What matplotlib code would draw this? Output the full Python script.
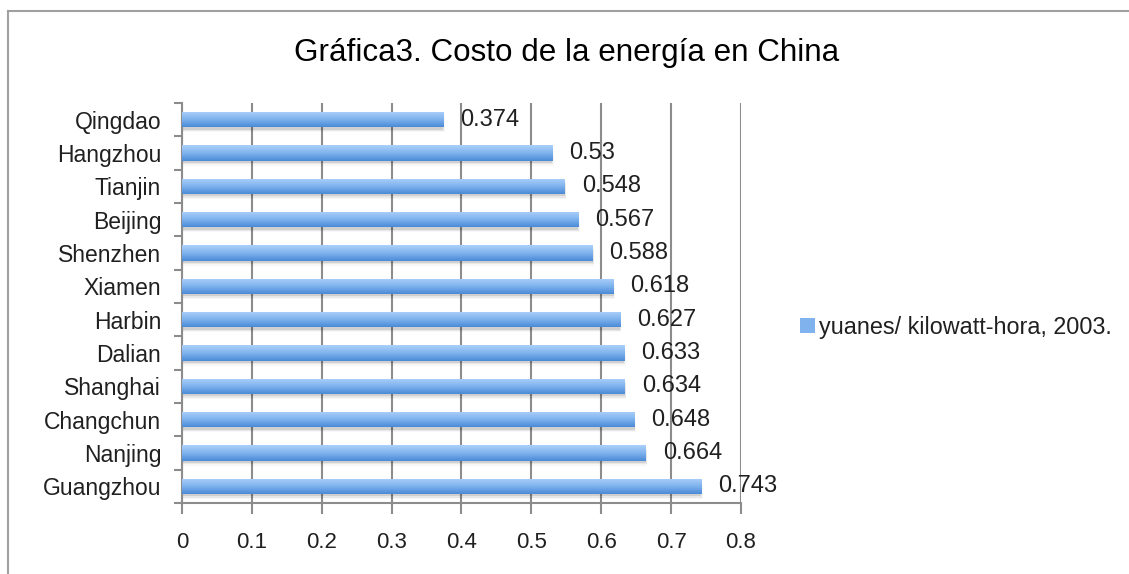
import numpy as np
import matplotlib.pyplot as plt
from matplotlib.colors import LinearSegmentedColormap
from matplotlib.patches import Rectangle
from matplotlib.lines import Line2D

plt.rcParams['font.family'] = ['Liberation Sans', 'DejaVu Sans']

# data (top to bottom as shown)
cities = ['Qingdao', 'Hangzhou', 'Tianjin', 'Beijing', 'Shenzhen', 'Xiamen',
          'Harbin', 'Dalian', 'Shanghai', 'Changchun', 'Nanjing', 'Guangzhou']
costs = [0.374, 0.53, 0.548, 0.567, 0.588, 0.618,
         0.627, 0.633, 0.634, 0.648, 0.664, 0.743]
value_labels = ['0.374', '0.53', '0.548', '0.567', '0.588', '0.618',
                '0.627', '0.633', '0.634', '0.648', '0.664', '0.743']
xticks = [0, 0.1, 0.2, 0.3, 0.4, 0.5, 0.6, 0.7, 0.8]
series_name = 'yuanes/ kilowatt-hora, 2003.'
title = 'Gráfica3. Costo de la energía en China'

txt = '#202020'

fig = plt.figure(figsize=(11.29, 5.74), dpi=100)
ax = fig.add_axes([0.1612, 0.1237, 0.4951, 0.6969])

n = len(cities)
ypos = np.arange(n)
bar_h = 0.46
# light at the top of each bar, darker at the bottom
grad = LinearSegmentedColormap.from_list('g', ['#acd0fa', '#80b3ee', '#4a8ad6'])
gimg = np.linspace(0, 1, 64).reshape(-1, 1)

for y, v in zip(ypos, costs):
    # soft shadow under the bar
    for k, a in enumerate([0.10, 0.06, 0.03]):
        ax.add_patch(Rectangle((0, y - bar_h / 2 + 0.07 + k * 0.04), v + 0.001 * k, bar_h,
                               facecolor='black', alpha=a, edgecolor='none', zorder=2))
    rect = Rectangle((0, y - bar_h / 2), v, bar_h, facecolor='none', edgecolor='none', zorder=3)
    ax.add_patch(rect)
    # axis is inverted: row 0 of the image goes to y - h/2 (top of bar)
    im = ax.imshow(gimg, cmap=grad, aspect='auto', origin='upper',
                   extent=(0, v, y + bar_h / 2, y - bar_h / 2), zorder=3)
    im.set_clip_path(rect)

for y, v, lab in zip(ypos, costs, value_labels):
    ax.text(v + 0.024, y, lab, va='center', ha='left', fontsize=17, color=txt, zorder=4)

ax.set_xlim(0, 0.8)
ax.set_ylim(n - 0.5, -0.5)
ax.set_xticks(xticks)
ax.set_xticklabels([f'{t:g}' for t in xticks])
ax.set_yticks(ypos)
ax.set_yticklabels(cities)
ax.set_yticks(np.arange(n + 1) - 0.5, minor=True)

ax.tick_params(axis='y', which='major', length=0, pad=15, labelsize=16.5, labelcolor=txt)
ax.tick_params(axis='y', which='minor', length=6, width=1.5, color='#8c8c8c', direction='out')
ax.tick_params(axis='x', which='major', length=8, width=1.5, color='#8c8c8c', direction='out',
               pad=13, labelsize=16, labelcolor=txt)

ax.grid(axis='x', color='#8c8c8c', linewidth=1.5, zorder=1)
ax.set_axisbelow(True)
for s in ['top', 'right']:
    ax.spines[s].set_visible(False)
for s in ['left', 'bottom']:
    ax.spines[s].set_color('#8c8c8c')
    ax.spines[s].set_linewidth(1.5)

fig.text(0.502, 0.908, title, ha='center', va='center', fontsize=22.6, color='black')

handle = Rectangle((0, 0), 1, 1, facecolor='#80b3ee', edgecolor='none')
fig.legend([handle], [series_name], loc='center left', bbox_to_anchor=(0.690, 0.43),
           frameon=False, fontsize=16.8, handlelength=0.65, handleheight=0.65,
           handletextpad=0.15, labelcolor=txt)

# outer chart frame (top and left edges)
fig.add_artist(Line2D([0.007, 1.0], [0.981, 0.981], color='#a0a0a0', linewidth=1.5,
                      transform=fig.transFigure))
fig.add_artist(Line2D([0.007, 0.007], [0.0, 0.981], color='#a0a0a0', linewidth=1.5,
                      transform=fig.transFigure))

fig.savefig('out.png', dpi=100, facecolor='white')
